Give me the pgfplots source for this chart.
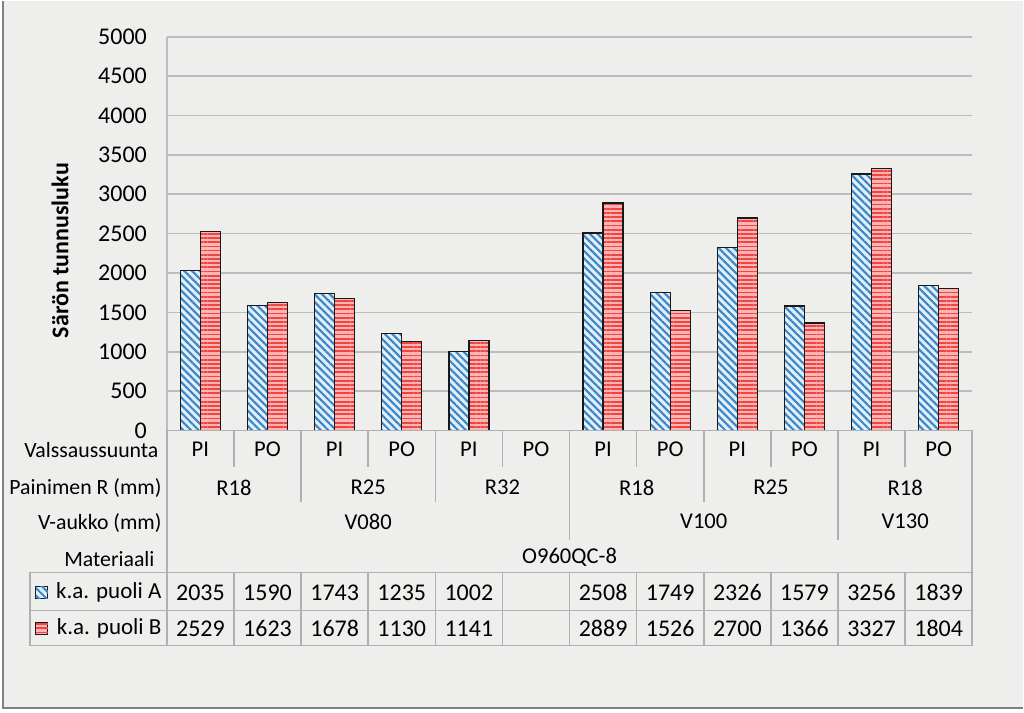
\documentclass[border=0pt]{standalone}
\usepackage{fontspec}
\setmainfont{Carlito}
\usepackage{pgfplots}
\pgfplotsset{compat=1.18}
\usetikzlibrary{patterns.meta}
\definecolor{bgc}{HTML}{EEEEEC}
\definecolor{gridc}{HTML}{BCBCBC}
\definecolor{tabc}{HTML}{B0B0B0}
\definecolor{bluef}{HTML}{E2EEF8}
\definecolor{bluel}{HTML}{3A86C8}
\definecolor{redf}{HTML}{FFB4B4}
\definecolor{redl}{HTML}{EE4444}
\newcommand\fa{\fontsize{12}{14}\selectfont}
\newcommand\fb{\fontsize{10.9}{12}\selectfont}
\newcommand\fc{\fontsize{11.3}{13}\selectfont}
\newcommand\fd{\fontsize{11.5}{13}\selectfont}
\tikzset{
  pa/.style={draw=black!90, line width=0.7pt, fill=bluef, postaction={pattern={Lines[angle=-45,distance=2.7pt,line width=1.05pt]}, pattern color=bluel}},
  pb/.style={draw=black!90, line width=0.7pt, fill=redf, postaction={pattern={Lines[angle=0,distance=2.1pt,line width=0.9pt]}, pattern color=redl}},
}
\begin{document}
\begin{tikzpicture}
\begin{scope}[x=0.5pt,y=-0.5pt]
\fill[white] (0,0) rectangle (1024,712);
\fill[bgc] (3,0) rectangle (1024,708);
\draw[gray, line width=0.8pt] (3,0) -- (3,708) -- (1024,708);
\end{scope}
\begin{axis}[at={(83.5pt,-215pt)}, anchor=south west, scale only axis,
  width=403pt, height=197pt,
  ybar=0pt, bar width=10pt,
  xmin=-0.5, xmax=11.5, ymin=0, ymax=5000,
  ytick={0,500,...,5000}, xtick=\empty,
  ymajorgrids, grid style={gridc, line width=0.8pt},
  separate axis lines, axis x line*=bottom, axis y line*=left,
  axis line style={gridc, line width=0.8pt, -},
  tick style={draw=none},
  yticklabel style={font=\fa, xshift=-6.5pt},
  /pgf/number format/assume math mode=true,
  /pgf/number format/1000 sep={},
  clip=false]
\addplot[pa] coordinates {(0,2035) (1,1590) (2,1743) (3,1235) (4,1002) (6,2508) (7,1749) (8,2326) (9,1579) (10,3256) (11,1839)};
\addplot[pb] coordinates {(0,2529) (1,1623) (2,1678) (3,1130) (4,1141) (6,2889) (7,1526) (8,2700) (9,1366) (10,3327) (11,1804)};
\end{axis}
\begin{scope}[x=0.5pt,y=-0.5pt]
\node[rotate=90, font=\fa\bfseries] at (60,250) {Särön tunnusluku};
% category area lines
\draw[tabc, line width=0.8pt] (167,430) -- (973,430);
\draw[tabc, line width=0.8pt] (167,430) -- (167,645);
\draw[tabc, line width=0.8pt] (973,430) -- (973,572);
\foreach \k in {1,3,5,7,9,11} \draw[tabc, line width=0.8pt] ({167+67.1667*\k},430) -- ({167+67.1667*\k},467);
\foreach \k in {2,4,8} \draw[tabc, line width=0.8pt] ({167+67.1667*\k},430) -- ({167+67.1667*\k},502);
\foreach \k in {6,10} \draw[tabc, line width=0.8pt] ({167+67.1667*\k},430) -- ({167+67.1667*\k},540);
% data table
\draw[tabc, line width=0.8pt] (30,572) rectangle (973,645);
\draw[tabc, line width=0.8pt] (30,610) -- (973,610);
\foreach \k in {1,...,11} \draw[tabc, line width=0.8pt] ({167+67.1667*\k},572) -- ({167+67.1667*\k},645);
% row labels
\node[anchor=east, font=\fb, inner sep=0pt] at (159,450) {Valssaussuunta};
\node[anchor=east, font=\fb, inner sep=0pt] at (162,488) {Painimen R (mm)};
\node[anchor=east, font=\fb, inner sep=0pt] at (162,523) {V-aukko (mm)};
\node[anchor=east, font=\fb, inner sep=0pt] at (155,559) {Materiaali};
% PI/PO
\foreach \k in {0,2,4,6,8,10} {
  \node[font=\fc, inner sep=0pt] at ({167+67.1667*(\k+0.5)},449) {PI};
  \node[font=\fc, inner sep=0pt] at ({167+67.1667*(\k+1.5)},449) {PO};
}
\foreach \k/\t in {0/R18,2/R25,4/R32,6/R18,8/R25,10/R18}
  \node[font=\fc, inner sep=0pt] at ({167+67.1667*(\k+1)},487) {\t};
\node[font=\fc, inner sep=0pt] at ({167+67.1667*3},521) {V080};
\node[font=\fc, inner sep=0pt] at ({167+67.1667*8},521) {V100};
\node[font=\fc, inner sep=0pt] at ({167+67.1667*11},521) {V130};
\node[font=\fc, inner sep=0pt] at ({167+67.1667*6},557) {O960QC-8};
% legend icons
\path[pa, line width=0.5pt] (36,586) rectangle (48,598);
\path[pb, line width=0.5pt] (36,622) rectangle (48,634);
\node[anchor=east, font=\fd, inner sep=0pt] at (162,592) {k.a. puoli A};
\node[anchor=east, font=\fd, inner sep=0pt] at (162,628) {k.a. puoli B};
\foreach \v [count=\i from 0] in {2035,1590,1743,1235,1002,{},2508,1749,2326,1579,3256,1839}
  \node[font=\fa, inner sep=0pt] at ({167+67.1667*(\i+0.5)},592) {\v};
\foreach \v [count=\i from 0] in {2529,1623,1678,1130,1141,{},2889,1526,2700,1366,3327,1804}
  \node[font=\fa, inner sep=0pt] at ({167+67.1667*(\i+0.5)},628) {\v};
\end{scope}
\end{tikzpicture}
\end{document}
